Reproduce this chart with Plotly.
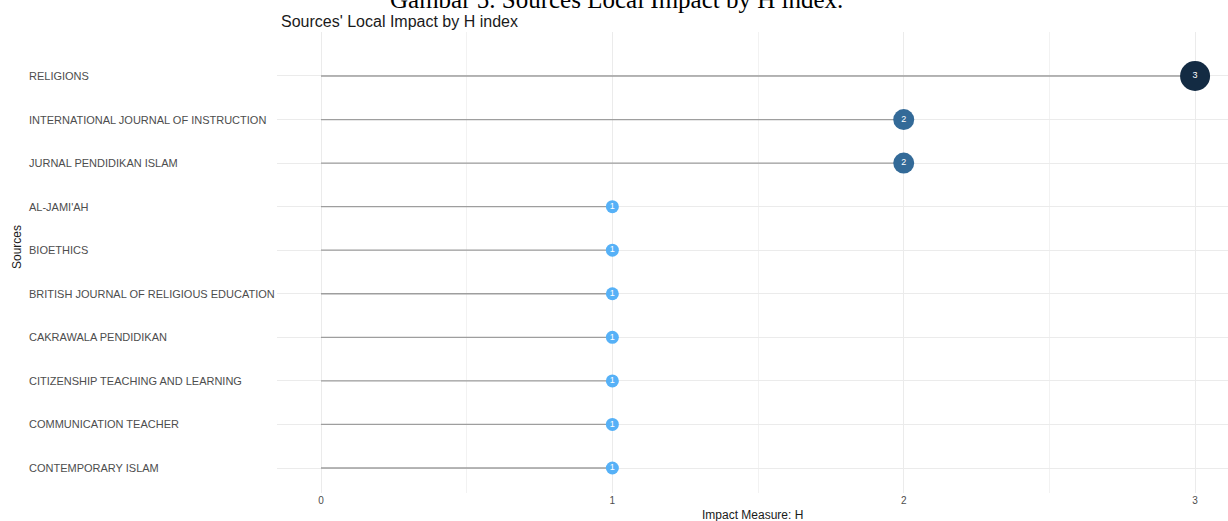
import plotly.graph_objects as go

sources = [
    "RELIGIONS",
    "INTERNATIONAL JOURNAL OF INSTRUCTION",
    "JURNAL PENDIDIKAN ISLAM",
    "AL-JAMI'AH",
    "BIOETHICS",
    "BRITISH JOURNAL OF RELIGIOUS EDUCATION",
    "CAKRAWALA PENDIDIKAN",
    "CITIZENSHIP TEACHING AND LEARNING",
    "COMMUNICATION TEACHER",
    "CONTEMPORARY ISLAM",
]
h_index = [3, 2, 2, 1, 1, 1, 1, 1, 1, 1]
x_ticks = [0, 1, 2, 3]

color_map = {1: "#56B1F7", 2: "#336A98", 3: "#132B43"}
size_map = {1: 13, 2: 21, 3: 30}

n = len(sources)
ypos = [n - 1 - i for i in range(n)]

W, H = 1228, 521
L, R, T, B = 277, 0, 32, 28
plot_w = W - L - R
plot_h = H - T - B

fig = go.Figure()

lx, ly = [], []
for v, y in zip(h_index, ypos):
    lx += [0, v, None]
    ly += [y, y, None]
fig.add_trace(go.Scatter(x=lx, y=ly, mode="lines",
                         line=dict(color="#9E9E9E", width=1.3),
                         hoverinfo="skip", showlegend=False))

fig.add_trace(go.Scatter(
    x=h_index, y=ypos, mode="markers+text",
    marker=dict(color=[color_map[v] for v in h_index],
                size=[size_map[v] for v in h_index], line=dict(width=0),
                opacity=1),
    text=[str(v) for v in h_index], textposition="middle center",
    textfont=dict(color="white", size=9, family="Liberation Sans, Arial"),
    showlegend=False))

annotations = []
for s, y in zip(sources, ypos):
    annotations.append(dict(x=(27 - L) / plot_w, xref="paper", y=y, yref="y",
                            text=s, showarrow=False, xanchor="left",
                            yanchor="middle",
                            font=dict(size=11, color="#4D4D4D",
                                      family="Liberation Sans, Arial")))

annotations += [
    dict(text="Sources' Local Impact by H index", xref="paper", yref="paper",
         x=(279 - L) / plot_w, y=1, yshift=0, xanchor="left", yanchor="bottom",
         showarrow=False, font=dict(size=16, color="#1A1A1A")),
    dict(text="Impact Measure: H", xref="paper", yref="paper",
         x=0.5, y=0, yshift=-13, xanchor="center", yanchor="top",
         showarrow=False, font=dict(size=12, color="#1A1A1A")),
    dict(text="Sources", xref="paper", yref="paper",
         x=(17 - L) / plot_w, y=(H - B - 247) / plot_h, textangle=-90,
         xanchor="center", yanchor="middle",
         showarrow=False, font=dict(size=12, color="#1A1A1A")),
    dict(text="Gambar 5. Sources Local Impact by H index.", xref="paper",
         yref="paper", x=(388 - L) / plot_w, y=1, yshift=17,
         xanchor="left", yanchor="bottom", showarrow=False,
         font=dict(size=25, color="#000000",
                   family="Liberation Serif, Times New Roman")),
]

fig.update_layout(
    width=W, height=H,
    margin=dict(l=L, r=R, t=T, b=B),
    plot_bgcolor="white", paper_bgcolor="white",
    font=dict(family="Liberation Sans, Arial"),
    xaxis=dict(range=[-0.151, 3.113], tickvals=x_ticks,
               ticktext=[str(t) for t in x_ticks],
               showgrid=True, gridcolor="#EBEBEB", gridwidth=1,
               minor=dict(tickvals=[0.5, 1.5, 2.5], showgrid=True,
                          gridcolor="#F2F2F2", gridwidth=1),
               zeroline=False, showline=False, ticks="",
               tickfont=dict(size=10, color="#4D4D4D")),
    yaxis=dict(range=[-0.574, 10.01], tickvals=ypos, showticklabels=False,
               showgrid=True, gridcolor="#EBEBEB", gridwidth=1,
               zeroline=False, showline=False, ticks=""),
    annotations=annotations,
)

fig.write_html("out.html",
               config={"displayModeBar": False},
               post_script="document.body.style.margin='0';"
                           "document.body.style.overflow='hidden';")
